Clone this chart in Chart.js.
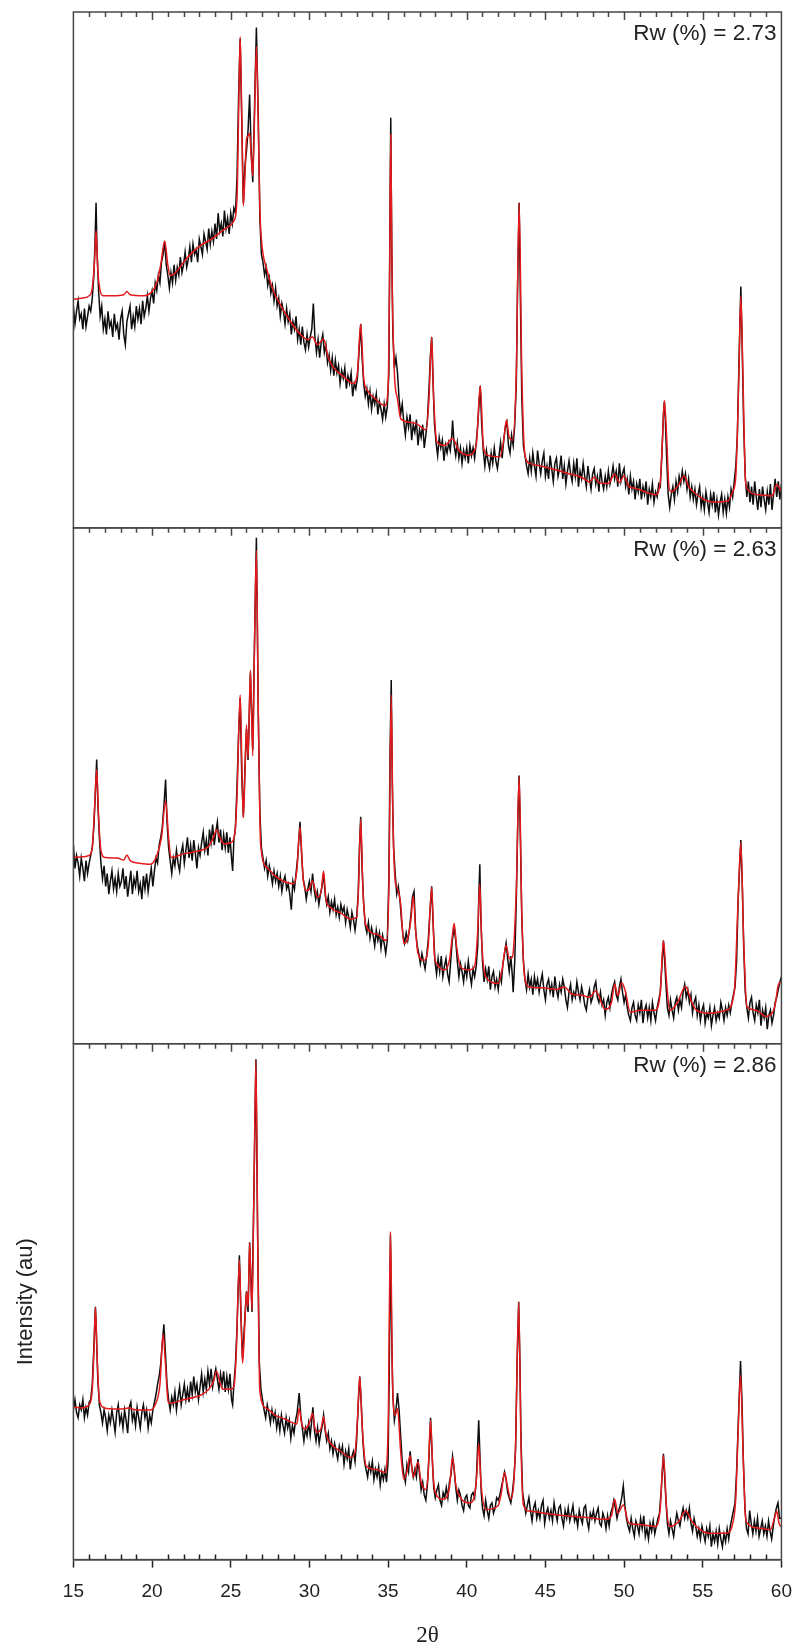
<!DOCTYPE html>
<html>
<head>
<meta charset="utf-8">
<title>XRD Rietveld fits</title>
<script src="https://cdn.jsdelivr.net/npm/chart.js@4.4.0/dist/chart.umd.min.js"></script>
<style>
  html, body { margin: 0; padding: 0; background: #fff; }
  canvas { display: block; }
</style>
</head>
<body>
<canvas id="xrdChart" width="805" height="1649"></canvas>
<script>
// x tick labels (2theta) and one Rw label per panel, top to bottom
const xTickValues = [15, 20, 25, 30, 35, 40, 45, 50, 55, 60];
const rwLabels = ['Rw (%) = 2.73', 'Rw (%) = 2.63', 'Rw (%) = 2.86'];

// Panel 1 (top): observed (black) and calculated (red), intensity in 0-100 of the panel
const obs1 = [[15,43],[15.1,39.5],[15.2,42],[15.3,44],[15.4,40.5],[15.5,41.5],[15.6,38.5],[15.7,42.5],[15.8,39],[15.9,41],[16,43],[16.1,42],[16.2,44.5],[16.3,49],[16.37,55],[16.44,63],[16.5,54],[16.6,46],[16.7,41],[16.8,43],[16.9,38.5],[17,40.5],[17.1,37.5],[17.2,42],[17.3,39],[17.4,40],[17.5,37],[17.6,41.5],[17.7,38.5],[17.8,39.5],[17.9,36.5],[18,40.5],[18.1,42],[18.2,37.5],[18.3,35.5],[18.4,40],[18.5,41.5],[18.6,43],[18.7,38.5],[18.8,41],[18.9,39],[19,43],[19.1,40.5],[19.2,42.5],[19.3,39.5],[19.4,44],[19.5,41],[19.6,42.5],[19.7,45],[19.8,42],[19.9,44.5],[20,46],[20.1,43.5],[20.2,47.5],[20.3,46],[20.4,49],[20.5,47.5],[20.6,51.5],[20.7,53],[20.8,55.5],[20.9,51],[21,49],[21.1,46.5],[21.2,49.5],[21.3,47.5],[21.4,51],[21.5,48],[21.6,50.5],[21.7,49],[21.8,52.5],[21.9,49.5],[22,51],[22.1,53.5],[22.2,50.5],[22.3,52],[22.4,54.5],[22.5,51.5],[22.6,55],[22.7,53],[22.8,54],[22.9,51.5],[23,56],[23.1,54.5],[23.2,53],[23.3,57],[23.4,55.5],[23.5,54],[23.6,58],[23.7,55],[23.8,57.5],[23.9,55.5],[24,59],[24.1,56],[24.2,61],[24.3,57.5],[24.4,59],[24.5,56.5],[24.6,61.5],[24.7,58],[24.8,60],[24.9,57],[25,61],[25.1,59],[25.2,62],[25.3,61],[25.4,68],[25.5,84],[25.6,94.8],[25.7,79],[25.8,63],[25.9,70],[26,73],[26.1,77],[26.2,84],[26.3,73],[26.4,67],[26.5,80],[26.63,97],[26.75,80],[26.85,60],[26.95,53],[27.05,51.5],[27.15,49],[27.25,50.5],[27.35,47],[27.45,48.5],[27.55,45.5],[27.65,47],[27.75,44],[27.85,46.5],[27.95,43],[28.05,44.5],[28.15,41],[28.25,43.5],[28.35,42],[28.45,39.5],[28.55,42.5],[28.65,40],[28.75,41.5],[28.85,37.5],[28.95,40],[29.05,38.5],[29.15,41],[29.25,36.5],[29.35,38.5],[29.45,35.5],[29.55,39],[29.65,36],[29.75,34.5],[29.85,37.5],[29.95,35],[30.05,37],[30.15,38.5],[30.25,43.5],[30.35,37],[30.45,34],[30.55,36.5],[30.65,33],[30.75,36],[30.85,37.5],[30.95,34],[31.05,35.5],[31.15,32],[31.25,33.5],[31.35,30.5],[31.45,33],[31.55,29.5],[31.65,32.5],[31.75,30],[31.85,31.5],[31.95,28],[32.05,30.5],[32.15,29],[32.25,31],[32.35,27],[32.45,29.5],[32.55,28],[32.65,30],[32.75,25.5],[32.85,28],[32.95,27],[33.05,29],[33.15,34],[33.26,39.5],[33.35,33],[33.45,28],[33.55,25.5],[33.65,27],[33.75,24],[33.85,26.5],[33.95,23],[34.05,25.5],[34.15,24],[34.25,26],[34.35,22],[34.45,24.5],[34.55,23],[34.65,21],[34.75,24],[34.85,21.5],[34.95,23.5],[35.05,30],[35.12,60],[35.17,79.5],[35.23,55],[35.3,38],[35.4,31],[35.5,33],[35.6,30],[35.7,25],[35.8,22],[35.9,24],[36,20.5],[36.1,18],[36.2,21.5],[36.3,19.5],[36.4,22],[36.5,17],[36.6,20],[36.7,18.5],[36.8,21],[36.9,16],[37,19],[37.1,17.5],[37.2,20],[37.3,15.5],[37.4,18],[37.5,21],[37.6,27],[37.7,34],[37.77,37],[37.85,29],[37.95,20],[38.05,16.5],[38.15,14],[38.25,17.5],[38.35,15.5],[38.45,17],[38.55,13],[38.65,16],[38.75,14.5],[38.85,16.5],[38.95,15],[39.05,18],[39.1,20.8],[39.2,16],[39.3,14],[39.4,16.5],[39.5,13.5],[39.6,15.5],[39.7,12.5],[39.8,15],[39.9,13.5],[40,15.5],[40.1,12.5],[40.2,16],[40.3,14],[40.4,15.5],[40.5,13.5],[40.6,16.5],[40.7,20],[40.8,25],[40.86,27.5],[40.95,20],[41.05,15],[41.15,12],[41.25,15],[41.35,13],[41.45,11.5],[41.55,14.5],[41.65,12.5],[41.75,15.5],[41.85,13],[41.95,11.5],[42.05,14],[42.15,16.5],[42.25,13.5],[42.35,17],[42.45,19.5],[42.55,20.5],[42.65,16],[42.75,14.5],[42.85,18],[42.95,16],[43.05,20],[43.15,28],[43.22,45],[43.33,63],[43.42,42],[43.5,25],[43.6,16],[43.7,14],[43.8,12],[43.9,10.5],[44,13.5],[44.1,11],[44.2,14.5],[44.3,12],[44.4,10],[44.5,15],[44.6,12.5],[44.7,10.5],[44.8,13],[44.9,14.5],[45,10],[45.1,12],[45.2,9.5],[45.3,14],[45.4,11.5],[45.5,9],[45.6,12.5],[45.7,13.5],[45.8,10],[45.9,11.5],[46,14],[46.1,9.5],[46.2,12],[46.3,8.5],[46.4,11],[46.5,13],[46.6,10.5],[46.7,9],[46.8,12.5],[46.9,10],[47,13.5],[47.1,8],[47.2,11],[47.3,9.5],[47.4,12.5],[47.5,10],[47.6,8],[47.7,12],[47.8,9.5],[47.9,7.5],[48,10.5],[48.1,11.5],[48.2,8.5],[48.3,10],[48.4,7],[48.5,11.5],[48.6,9],[48.7,7.5],[48.8,10],[48.9,8],[49,11],[49.1,8.5],[49.2,10],[49.3,12],[49.4,9.5],[49.5,11],[49.6,8],[49.7,12.5],[49.8,9],[49.9,10.5],[50,11.5],[50.1,8],[50.2,9.5],[50.3,6.5],[50.4,10],[50.5,7.5],[50.6,9],[50.7,5.5],[50.8,8.5],[50.9,7],[51,9.5],[51.1,5.5],[51.2,8],[51.3,6.5],[51.4,9],[51.5,4.5],[51.6,7.5],[51.7,6],[51.8,8.5],[51.9,5],[52,7],[52.1,6],[52.2,8.5],[52.3,8],[52.4,14],[52.5,22],[52.56,24.5],[52.62,21],[52.7,14],[52.8,6.5],[52.9,4],[53,6.5],[53.1,8],[53.2,5.5],[53.3,9],[53.4,7],[53.5,10],[53.6,8.5],[53.7,11],[53.8,9],[53.9,10.5],[54,7.5],[54.1,9.5],[54.2,6],[54.3,8],[54.4,5.5],[54.5,7.5],[54.6,4.5],[54.7,6.5],[54.8,8],[54.9,4],[55,6],[55.1,3.5],[55.2,7],[55.3,5],[55.4,3],[55.5,6.5],[55.6,4.5],[55.7,7],[55.8,3],[55.9,5.5],[56,2.5],[56.1,5],[56.2,6.5],[56.3,3],[56.4,5.5],[56.5,2.8],[56.6,6],[56.7,4],[56.8,7.5],[56.9,6],[57,9],[57.1,12],[57.2,18],[57.3,32],[57.42,46.8],[57.5,36],[57.6,20],[57.7,10],[57.8,6],[57.9,9],[58,5],[58.1,8],[58.2,4.5],[58.3,9],[58.4,6],[58.5,3.5],[58.6,7.5],[58.7,4],[58.8,8],[58.9,5.5],[59,3.5],[59.1,7],[59.2,4.5],[59.3,8.5],[59.4,3.5],[59.5,6.5],[59.6,9.5],[59.7,6],[59.8,9],[59.9,5.5],[60,8.5]];
const calc1 = [[15,44.3],[15.5,44.5],[16,45],[16.2,46.5],[16.35,52],[16.44,57.6],[16.55,50],[16.7,46],[16.9,45],[17.5,45],[18.2,45.2],[18.4,45.8],[18.6,45.2],[19.5,45],[19.9,45.5],[20.3,47.5],[20.55,51],[20.8,55.6],[21,51],[21.15,48.9],[21.5,49.5],[22,51.5],[22.6,53.5],[23.2,55],[23.8,56],[24.3,57.2],[24.8,58.3],[25.2,59.5],[25.4,64],[25.5,80],[25.6,95.2],[25.7,80],[25.8,62.4],[25.9,68],[26,75.3],[26.1,76],[26.2,76.5],[26.3,72],[26.4,68.2],[26.5,78],[26.63,93.3],[26.75,78],[26.85,62],[26.95,55.9],[27.3,50],[27.7,46],[28.2,43],[28.8,40],[29.4,37.6],[29.9,36.5],[30.2,37],[30.5,35.5],[30.9,36.6],[31.2,33],[31.5,31.2],[32.1,29.5],[32.8,28],[33.05,30],[33.26,39.5],[33.45,29],[33.7,26.6],[34.2,25],[34.8,23.7],[35,27],[35.1,50],[35.17,76.2],[35.25,50],[35.4,30],[35.6,25],[35.8,21.2],[36.3,20.5],[36.9,20],[37.4,19],[37.6,25],[37.77,37],[37.9,25],[38.1,16.7],[38.6,16],[39.1,17.3],[39.5,15],[40.1,14.1],[40.6,16],[40.86,27.6],[41.05,16],[41.3,14.1],[42.1,13.8],[42.35,17],[42.52,20.9],[42.7,17.5],[42.9,17],[43.15,30],[43.33,63],[43.5,30],[43.7,14.1],[44,12.5],[45,11.8],[45.7,11.2],[46.5,10.5],[47.3,9.8],[47.8,8.9],[48.1,9.8],[48.4,8.8],[49,8.6],[49.4,10.4],[49.7,8.8],[50,10.1],[50.3,8],[50.7,7.7],[51.5,6.8],[52,6.4],[52.3,9],[52.45,18],[52.56,24.7],[52.7,18],[52.85,8],[53,7],[53.5,8.5],[53.8,10.1],[54.1,8],[54.4,7],[55.3,5.2],[56,5],[56.6,5.2],[56.9,7],[57.1,10],[57.3,30],[57.42,45],[57.55,30],[57.7,10],[57.8,7.7],[58.6,6.4],[59.4,6.2],[59.7,8.4],[60,7]];

// Panel 2 (middle)
const obs2 = [[15,38.5],[15.1,34],[15.2,36.5],[15.3,35],[15.4,32.5],[15.5,36],[15.6,34],[15.7,31.5],[15.8,35.5],[15.9,33],[16,35],[16.1,36.5],[16.2,38],[16.3,42],[16.4,49],[16.48,55.1],[16.55,47],[16.65,40],[16.75,35],[16.85,32],[16.95,34.5],[17.05,30.5],[17.15,33],[17.25,29],[17.35,31.5],[17.45,33.5],[17.55,30],[17.65,32],[17.75,29.5],[17.85,33],[17.95,30.5],[18.05,31.5],[18.15,34],[18.25,30],[18.35,32.5],[18.45,28.5],[18.55,31],[18.65,33.5],[18.75,29],[18.85,32],[18.95,30.5],[19.05,33.5],[19.15,29.5],[19.25,31],[19.35,28],[19.45,32.5],[19.55,30],[19.65,33],[19.75,29.5],[19.85,32],[19.95,34],[20.05,30.5],[20.15,33.5],[20.25,36],[20.35,35],[20.45,38.5],[20.55,40],[20.65,42],[20.75,46],[20.86,51.2],[20.95,43],[21.05,38],[21.15,35.5],[21.25,33],[21.35,36],[21.45,34.5],[21.55,37.5],[21.65,35],[21.75,33.5],[21.85,37],[21.95,38.5],[22.05,35],[22.15,37.5],[22.25,40],[22.35,36],[22.45,38.5],[22.55,35.5],[22.65,39.5],[22.75,37],[22.85,34],[22.95,38],[23.05,36.5],[23.15,39],[23.25,41],[23.35,37.5],[23.45,39.5],[23.55,36.5],[23.65,41.5],[23.75,39],[23.85,42.5],[23.95,38.5],[24.05,41],[24.15,43],[24.25,39],[24.35,41.5],[24.45,37.5],[24.55,40.5],[24.65,38],[24.75,41],[24.85,37],[24.95,40],[25.05,36],[25.12,33.5],[25.2,39.5],[25.3,42],[25.4,50],[25.5,60],[25.6,67],[25.7,52],[25.8,44],[25.9,53],[26,61],[26.1,55],[26.25,72],[26.4,57],[26.5,76],[26.63,98.1],[26.75,64],[26.85,45],[26.95,38],[27.05,36],[27.15,34],[27.25,35.5],[27.35,32.5],[27.45,34.5],[27.55,33],[27.65,31],[27.75,33.5],[27.85,31.5],[27.95,33],[28.05,30.5],[28.15,32.5],[28.25,29.5],[28.35,31.5],[28.45,32.5],[28.55,30],[28.65,31],[28.75,29],[28.85,26],[28.95,31.5],[29.05,30],[29.15,33],[29.25,36],[29.4,43],[29.5,37],[29.6,32],[29.7,30.5],[29.8,28],[29.9,30],[30,31.5],[30.1,29.5],[30.2,33],[30.3,30],[30.4,28],[30.5,29.5],[30.6,27],[30.7,29],[30.8,30.5],[30.9,33],[31,29],[31.1,27],[31.2,28.5],[31.3,25.5],[31.4,27.5],[31.5,26],[31.6,28],[31.7,25],[31.8,26.5],[31.9,24.5],[32,27],[32.1,25.5],[32.2,26.5],[32.3,23.5],[32.4,26],[32.5,24.5],[32.6,22.5],[32.7,25.5],[32.8,24],[32.9,22],[33,24.5],[33.1,29],[33.18,38],[33.26,44],[33.35,34],[33.45,27],[33.55,23],[33.65,21.5],[33.75,23.5],[33.85,20.5],[33.95,22.5],[34.05,21],[34.15,19],[34.25,22],[34.35,20],[34.45,21.5],[34.55,18.5],[34.65,21],[34.75,19.5],[34.85,17.5],[34.95,20],[35.05,32],[35.12,55],[35.2,70.5],[35.27,50],[35.35,38],[35.45,33],[35.55,29],[35.65,30.5],[35.75,28],[35.85,24],[35.95,21],[36.05,19.5],[36.15,21.5],[36.25,20],[36.35,22],[36.45,25],[36.55,28.5],[36.65,29.5],[36.75,22],[36.85,19],[36.95,17.5],[37.05,15.5],[37.15,17.5],[37.25,16],[37.35,14.5],[37.45,17],[37.55,20],[37.65,25],[37.77,30.5],[37.88,22],[37.98,16],[38.08,13.5],[38.18,16.5],[38.28,14],[38.38,17],[38.48,13],[38.58,15],[38.68,16.5],[38.78,13.5],[38.88,12],[38.98,16],[39.08,20],[39.2,22.5],[39.3,20],[39.4,16],[39.5,13],[39.6,15.5],[39.7,14],[39.8,12],[39.9,15],[40,13],[40.1,16],[40.2,13.5],[40.3,11.5],[40.4,14.5],[40.5,13],[40.6,15],[40.7,19],[40.76,28],[40.83,34.8],[40.9,24],[41,16],[41.1,12],[41.2,14.5],[41.3,12.5],[41.4,15],[41.5,10.5],[41.6,13],[41.7,14],[41.8,11],[41.9,12.5],[42,10.5],[42.1,13.5],[42.2,12],[42.3,15.5],[42.4,17.5],[42.5,19.5],[42.6,16.5],[42.7,14],[42.8,17],[42.9,13],[42.95,10],[43.05,16],[43.15,28],[43.25,44],[43.33,52],[43.42,38],[43.5,24],[43.6,16],[43.7,12.5],[43.8,10.5],[43.9,13.5],[44,11],[44.1,12.5],[44.2,9.5],[44.3,13],[44.4,11],[44.5,12.5],[44.6,10],[44.7,12],[44.8,13.5],[44.9,10.5],[45,8.5],[45.1,11.5],[45.2,12.5],[45.3,10],[45.4,11.5],[45.5,9],[45.6,13],[45.7,10.5],[45.8,9],[45.9,11.5],[46,10],[46.1,12.5],[46.2,11],[46.3,8.5],[46.4,7],[46.5,10],[46.6,11.5],[46.7,8.5],[46.8,10],[46.9,9],[47,12],[47.1,10],[47.2,8.5],[47.3,11],[47.4,9.5],[47.5,7.5],[47.6,6.5],[47.7,9],[47.8,10.5],[47.9,8],[48,9],[48.1,11],[48.2,12],[48.3,9],[48.4,8],[48.5,10],[48.6,7.5],[48.7,8.5],[48.8,5.5],[48.9,8],[49,9],[49.1,7],[49.2,9.5],[49.3,11],[49.4,12],[49.5,9.5],[49.6,8.5],[49.7,11],[49.8,12.5],[49.9,10],[50,8],[50.1,9.5],[50.2,7],[50.3,5.5],[50.4,4.5],[50.5,7],[50.6,8],[50.7,5.5],[50.8,4.5],[50.9,7.5],[51,6],[51.1,8.5],[51.2,4],[51.3,6.5],[51.4,7.5],[51.5,5],[51.6,7],[51.7,4.5],[51.8,8],[51.9,6],[52,4.5],[52.1,7],[52.2,8.5],[52.3,10],[52.4,15],[52.5,20],[52.58,16],[52.65,12],[52.75,7],[52.85,5.5],[52.95,8.5],[53.05,6.5],[53.15,5],[53.25,8],[53.35,9],[53.45,6.5],[53.55,8.5],[53.65,7],[53.75,10],[53.85,11.5],[53.95,9],[54.05,10.5],[54.15,8],[54.25,9.5],[54.35,6],[54.45,8],[54.55,9],[54.65,5.5],[54.75,7.5],[54.85,4.5],[54.95,6.5],[55.05,7.5],[55.15,4],[55.25,6],[55.35,5],[55.45,7],[55.55,3.5],[55.65,5.5],[55.75,7],[55.85,4.5],[55.95,6],[56.05,5],[56.15,8],[56.25,6.5],[56.35,4.5],[56.45,7],[56.55,5.5],[56.65,7.5],[56.75,6],[56.85,8],[56.95,9.5],[57.05,11],[57.15,16],[57.25,28],[57.42,39.5],[57.52,30],[57.6,19],[57.7,10],[57.8,7],[57.9,5],[58,8],[58.1,9],[58.2,6],[58.3,4.5],[58.4,7.5],[58.5,6],[58.6,8.5],[58.7,3.5],[58.8,6.5],[58.9,5],[59,7],[59.1,2.8],[59.2,5.5],[59.3,6.5],[59.4,4],[59.5,5.5],[59.6,8],[59.7,9],[59.8,10.5],[59.9,12],[60,13]];
const calc2 = [[15,36.1],[15.5,36.2],[16,36.5],[16.2,38],[16.35,46],[16.48,53.1],[16.6,44],[16.75,37.5],[17,36.1],[17.8,36],[18.2,35.6],[18.4,36.6],[18.6,35.5],[19.2,35],[19.9,34.8],[20.3,36.5],[20.6,40],[20.86,47],[21.05,40],[21.2,36.1],[22,36.8],[23,37.4],[23.6,38.3],[23.9,40],[24.1,41.5],[24.3,40],[24.6,38.7],[25,39],[25.25,40.5],[25.4,48],[25.6,67.6],[25.7,55],[25.8,43.8],[25.9,52],[26,61.8],[26.1,55.4],[26.25,72.4],[26.4,55.8],[26.5,75],[26.63,95.6],[26.75,65],[26.9,38.7],[27.3,34.2],[27.8,32.6],[28.3,31.6],[29,31],[29.2,33.5],[29.4,42],[29.6,32],[29.8,29.7],[30,30],[30.2,31.6],[30.5,28.4],[30.75,29.5],[30.9,33.5],[31.05,28],[31.3,26.5],[32,25.3],[32.6,24.2],[33,24.5],[33.12,30],[33.26,43.5],[33.4,30],[33.6,22.9],[34.3,21.2],[34.9,20],[35.05,30],[35.2,67.6],[35.3,45],[35.45,31.6],[35.6,30],[35.8,27.1],[36,19.4],[36.25,20.5],[36.45,24],[36.6,28.7],[36.75,22],[36.9,17.5],[37.3,16.2],[37.55,19],[37.77,30.3],[37.95,17],[38.1,15.5],[38.5,14.3],[38.9,16.2],[39.05,20],[39.2,23.3],[39.35,19],[39.6,14.9],[40.1,14.3],[40.5,15],[40.7,22],[40.83,31],[40.95,20],[41.2,13],[42,11.7],[42.25,14.5],[42.5,19.1],[42.7,16.5],[42.9,16.8],[43.15,30],[43.33,51.9],[43.5,25],[43.7,12.4],[44,11],[45,10.8],[45.7,10.5],[46.2,11],[46.7,9.6],[47.3,9.4],[47.8,9],[48.2,10.2],[48.8,6.7],[49.2,8],[49.4,11.6],[49.6,9.3],[49.85,11.8],[50.05,10.5],[50.4,6.1],[51,6.5],[52,6.5],[52.3,10],[52.5,20],[52.7,12],[52.9,6.5],[53.4,8],[53.9,11.1],[54.3,8],[54.6,6.5],[55.4,5.9],[56.5,6.5],[57,10],[57.25,28],[57.42,39],[57.6,20],[57.8,7.2],[58.4,6.5],[59,5.3],[59.4,5.9],[59.6,7.5],[59.8,11.4],[60,12]];

// Panel 3 (bottom)
const obs3 = [[15,29],[15.1,31],[15.2,28.5],[15.3,27.5],[15.4,30],[15.5,29],[15.6,31],[15.7,27.5],[15.8,29.5],[15.9,28],[16,30.5],[16.1,31],[16.2,34],[16.3,41],[16.4,49],[16.48,42],[16.55,35],[16.65,30],[16.75,28.5],[16.85,26.5],[16.95,29],[17.05,27.5],[17.15,25],[17.25,28],[17.35,26.5],[17.45,29],[17.55,27],[17.65,24.7],[17.75,28.5],[17.85,30],[17.95,26.5],[18.05,28],[18.15,25.5],[18.25,29],[18.35,27],[18.45,24.5],[18.55,29.5],[18.65,30.5],[18.75,27],[18.85,28.5],[18.95,26],[19.05,29.5],[19.15,27.5],[19.25,25.5],[19.35,28.5],[19.45,30],[19.55,27.5],[19.65,29],[19.75,25.5],[19.85,28],[19.95,26.5],[20.05,29],[20.15,30.5],[20.25,32],[20.35,34],[20.45,35.5],[20.55,38],[20.65,42],[20.75,45.6],[20.85,40],[20.95,34],[21.05,31],[21.15,29],[21.25,31.5],[21.35,30],[21.45,32.5],[21.55,29],[21.65,31.5],[21.75,33.5],[21.85,30],[21.95,32],[22.05,34],[22.15,31],[22.25,33],[22.35,30.5],[22.45,34.5],[22.55,32],[22.65,35.5],[22.75,32.5],[22.85,34],[22.95,31],[23.05,33.5],[23.15,36],[23.25,32.5],[23.35,35],[23.45,33],[23.55,36.5],[23.65,34],[23.75,37],[23.85,33.5],[23.95,35.5],[24.05,37],[24.15,35],[24.25,33],[24.35,36],[24.45,34],[24.55,36.5],[24.65,32.5],[24.75,35.5],[24.85,33],[24.95,36],[25.05,31],[25.12,30],[25.2,34],[25.3,38],[25.4,45],[25.48,53],[25.55,59],[25.65,47],[25.75,39],[25.9,47],[26,52],[26.1,48],[26.2,61.5],[26.35,48],[26.47,71],[26.6,97],[26.72,60],[26.82,38],[26.92,33],[27.02,31],[27.12,29],[27.22,27.5],[27.32,30],[27.42,28.5],[27.52,26.5],[27.62,29],[27.72,27],[27.82,28.5],[27.92,25.5],[28.02,27.5],[28.12,25],[28.22,28],[28.32,26],[28.42,24.5],[28.52,27.5],[28.62,25.5],[28.72,27],[28.82,23.5],[28.92,26],[29.02,24.5],[29.12,27],[29.22,28.5],[29.35,32.3],[29.45,28],[29.55,25.5],[29.65,23],[29.75,25.5],[29.85,24],[29.95,26.5],[30.05,24],[30.15,27],[30.22,29.5],[30.32,25],[30.42,23],[30.52,25.5],[30.62,22.5],[30.72,24.5],[30.82,26],[30.9,28],[31,25],[31.1,23],[31.2,24.5],[31.3,21.5],[31.4,23],[31.5,20.5],[31.6,22.5],[31.7,21],[31.8,19.5],[31.9,22],[32,20.5],[32.1,22],[32.2,18.5],[32.3,21],[32.4,19.5],[32.5,21.5],[32.6,17.5],[32.7,20],[32.8,21],[32.9,19],[33,23],[33.1,30],[33.2,35.5],[33.3,30],[33.4,23],[33.5,19],[33.6,17.5],[33.7,16],[33.8,18.5],[33.9,17],[34,19],[34.1,15.5],[34.2,17.5],[34.3,16],[34.4,18],[34.5,14.5],[34.6,17],[34.7,15.5],[34.8,17.5],[34.9,15],[35,19],[35.07,35],[35.15,63],[35.22,45],[35.3,32],[35.4,27],[35.5,29],[35.6,32.3],[35.7,29],[35.8,24],[35.9,19],[36,16.5],[36.1,15],[36.2,18.5],[36.3,17],[36.4,21],[36.5,18],[36.6,16],[36.7,17.5],[36.8,16],[36.9,19.5],[37,16.5],[37.1,13.5],[37.2,15],[37.3,12.5],[37.4,11.5],[37.5,14.5],[37.6,20],[37.7,27.5],[37.8,20],[37.9,14],[38,12],[38.1,13.5],[38.2,14.5],[38.3,11.5],[38.4,10.5],[38.5,13],[38.6,12],[38.7,14],[38.8,12],[38.9,15],[39,16.5],[39.1,20],[39.2,17.5],[39.3,14],[39.4,11.5],[39.5,13.5],[39.6,12.5],[39.7,10.5],[39.8,9.5],[39.9,12],[40,12.5],[40.1,10.5],[40.2,10],[40.3,12.5],[40.4,13],[40.5,12],[40.6,15],[40.68,21],[40.76,27],[40.84,20],[40.92,13],[41,10],[41.1,8.5],[41.2,11.5],[41.3,9.5],[41.4,8],[41.5,10.5],[41.6,11],[41.7,9],[41.8,10],[41.9,12],[42,11.5],[42.1,12.5],[42.2,14],[42.3,15.5],[42.4,17],[42.5,15.5],[42.6,13],[42.7,12],[42.8,11],[42.9,13],[43,16],[43.1,21],[43.2,38],[43.3,50],[43.38,38],[43.45,23],[43.55,13],[43.65,11],[43.75,9],[43.85,10.5],[43.95,12],[44.05,9.5],[44.15,7.5],[44.25,10],[44.35,11],[44.45,8],[44.55,9.5],[44.65,8],[44.75,10.5],[44.85,11.5],[44.95,7],[45.05,9],[45.15,10],[45.25,8],[45.35,9.5],[45.45,7.5],[45.55,11],[45.65,9],[45.75,7.5],[45.85,10],[45.95,10.5],[46.05,8],[46.15,6.5],[46.25,9.5],[46.35,8],[46.45,10],[46.55,7.5],[46.65,9],[46.75,10.5],[46.85,7.5],[46.95,8.5],[47.05,6.5],[47.15,9.5],[47.25,8],[47.35,7],[47.45,10],[47.55,10.5],[47.65,7.5],[47.75,6],[47.85,9],[47.95,8],[48.05,9.5],[48.15,7.5],[48.25,9],[48.35,10],[48.45,7],[48.55,6.5],[48.65,9],[48.75,8],[48.85,6],[48.95,8.5],[49.05,6.5],[49.15,9],[49.25,10],[49.35,11.5],[49.45,10],[49.55,8],[49.65,9.5],[49.75,10.5],[49.85,12],[49.95,14.3],[50.05,10.5],[50.15,8],[50.25,6.5],[50.35,5.5],[50.45,8],[50.55,6],[50.65,4.5],[50.75,7.5],[50.85,6.5],[50.95,5],[51.05,8],[51.15,6],[51.25,8.5],[51.35,4.5],[51.45,6],[51.55,4],[51.65,7],[51.75,5.5],[51.85,7.5],[51.95,5],[52.05,6.5],[52.15,8],[52.25,9],[52.35,13],[52.45,18],[52.5,20.5],[52.58,16],[52.65,12],[52.75,7],[52.85,5],[52.95,7.5],[53.05,6],[53.15,4.5],[53.25,7],[53.35,9],[53.45,7.5],[53.55,6.5],[53.65,8.5],[53.75,10],[53.85,8],[53.95,9.5],[54.05,8],[54.15,10],[54.25,7],[54.35,5.5],[54.45,8],[54.55,6.5],[54.65,4.5],[54.75,6],[54.85,4],[54.95,6.5],[55.05,5],[55.15,3.5],[55.25,6],[55.35,4.5],[55.45,6.5],[55.55,2.5],[55.65,5],[55.75,3.5],[55.85,5.5],[55.95,3],[56.05,6],[56.15,4],[56.25,2.5],[56.35,5],[56.45,3.5],[56.55,6],[56.65,4],[56.75,6.5],[56.85,8],[56.95,9.5],[57.05,11],[57.15,17],[57.25,26],[57.4,38.5],[57.5,30],[57.58,19],[57.68,10],[57.78,6],[57.88,5],[57.98,9.5],[58.08,7],[58.18,5],[58.28,7.5],[58.38,5.5],[58.48,8],[58.58,4.5],[58.68,6],[58.78,7.5],[58.88,5],[58.98,6.5],[59.08,4.5],[59.18,7.5],[59.28,5.5],[59.38,4],[59.48,6.5],[59.58,8.5],[59.68,10],[59.78,11],[59.88,8],[60,8]];
const calc3 = [[15,29.6],[15.5,29.4],[16,30],[16.2,33],[16.3,40],[16.4,48.9],[16.5,40],[16.65,31],[16.9,29.5],[17.1,29.3],[18,29.2],[18.5,29.4],[19,29],[19.9,29],[20.2,30],[20.5,34],[20.7,43.7],[20.85,38],[21,31],[21.1,30.3],[22,31],[23.1,31.9],[23.6,33],[23.9,34.5],[24.1,36.5],[24.3,34.5],[24.5,33],[25,33],[25.2,33.5],[25.35,40],[25.55,58.1],[25.65,48],[25.75,38.1],[25.9,46],[26,51.9],[26.1,49],[26.2,61.4],[26.35,48.3],[26.47,70],[26.6,96.7],[26.72,60],[26.85,32.6],[27.3,29.3],[27.8,28],[28.4,27.3],[29.2,26.3],[29.35,29.3],[29.5,26.5],[29.7,25.3],[30,26.5],[30.2,28.3],[30.35,25.5],[30.5,24.7],[30.75,25.5],[30.9,27.7],[31.05,24.5],[31.3,22.7],[32,21],[32.6,19.8],[32.9,20.8],[33.05,27],[33.2,35.5],[33.35,26],[33.6,18.2],[34.2,17.5],[34.8,16.9],[35,25],[35.15,63.6],[35.28,35],[35.45,28],[35.6,29.3],[35.8,21],[36,15.6],[36.2,17],[36.4,20.2],[36.6,16],[36.9,18.9],[37.1,15],[37.4,13.6],[37.55,17],[37.7,27],[37.85,17],[38,13],[38.5,11.7],[38.9,14],[39.1,19.8],[39.3,14.5],[39.5,12.5],[40.2,11],[40.5,12.5],[40.65,17],[40.76,22.4],[40.9,15],[41.2,9.7],[42,10.5],[42.2,13],[42.4,16.9],[42.6,14],[42.8,11.7],[43.1,22],[43.3,49.9],[43.45,22],[43.6,10.6],[44,9.4],[45.7,8.7],[47.8,8.1],[48.8,7.8],[49.2,8.5],[49.4,11.7],[49.6,9],[49.95,10.6],[50.3,7.1],[51,6.8],[52,6.4],[52.3,10],[52.5,20.2],[52.7,10],[52.9,6.4],[53.5,7.5],[53.9,9.4],[54.3,7.5],[54.6,6.4],[55.4,5.1],[56.5,5.1],[56.9,7],[57.1,12],[57.25,25],[57.4,35.8],[57.55,22],[57.7,9],[57.8,7.2],[58.6,6.1],[59.3,5.8],[59.55,8],[59.7,9.4],[59.85,7],[60,6.4]];

const panelIds = ['y1', 'y2', 'y3'];
const obsColor = '#0d0d0d';
const calcColor = '#e41a1c';
const frameColor = '#474747';
const textColor = '#222222';

function obsSet(data, axis) {
    return { data: data, yAxisID: axis, borderColor: obsColor, borderWidth: 1.5,
             pointRadius: 0, tension: 0, order: 1 };
}
function calcSet(data, axis) {
    return { data: data, yAxisID: axis, borderColor: calcColor, borderWidth: 1.5,
             pointRadius: 0, cubicInterpolationMode: 'monotone', order: 0 };
}

function panelScale(withTitle) {
    return {
        type: 'linear', position: 'left', stack: 'xrd', stackWeight: 1,
        min: 0, max: 100,
        ticks: { display: false },
        grid: { display: false, drawTicks: false },
        border: { display: false },
        title: {
            display: withTitle, text: 'Intensity (au)', color: textColor,
            font: { family: 'Liberation Sans', size: 22 },
            padding: { top: 0, bottom: 34 }
        }
    };
}

// frame, inward ticks and Rw text for each panel
const framePlugin = {
    id: 'xrdFrame',
    afterDatasetsDraw(chart) {
        const { ctx, chartArea, scales } = chart;
        const x = scales.x;
        ctx.save();
        ctx.strokeStyle = frameColor;
        ctx.lineWidth = 1.5;
        panelIds.forEach((id, i) => {
            const s = scales[id];
            ctx.strokeRect(chartArea.left, s.top, chartArea.right - chartArea.left, s.bottom - s.top);
            ctx.beginPath();
            for (let v = 16; v < 60; v++) {
                const px = Math.round(x.getPixelForValue(v)) + 0.5;
                const len = v % 5 === 0 ? 8 : 5;
                ctx.moveTo(px, s.top);
                ctx.lineTo(px, s.top + len);
            }
            ctx.stroke();
            ctx.fillStyle = textColor;
            ctx.font = '22.5px "Liberation Sans"';
            ctx.textAlign = 'right';
            ctx.textBaseline = 'alphabetic';
            ctx.fillText(rwLabels[i], chartArea.right - 5, s.top + 28);
        });
        // minor ticks on the bottom axis point inward
        const bottom = scales.y3.bottom;
        ctx.strokeStyle = '#222';
        ctx.beginPath();
        for (let v = 16; v < 60; v++) {
            if (v % 5 === 0) continue;
            const px = Math.round(x.getPixelForValue(v)) + 0.5;
            ctx.moveTo(px, bottom);
            ctx.lineTo(px, bottom - 5);
        }
        ctx.stroke();
        ctx.restore();
    }
};

new Chart(document.getElementById('xrdChart'), {
    type: 'line',
    data: {
        datasets: [
            calcSet(calc1, 'y1'), obsSet(obs1, 'y1'),
            calcSet(calc2, 'y2'), obsSet(obs2, 'y2'),
            calcSet(calc3, 'y3'), obsSet(obs3, 'y3')
        ]
    },
    options: {
        responsive: false,
        animation: false,
        devicePixelRatio: 1,
        events: [],
        layout: { padding: { left: 13, right: 14, top: 12, bottom: 0 } },
        plugins: { legend: { display: false }, tooltip: { enabled: false } },
        scales: {
            x: {
                type: 'linear', position: 'bottom', min: 15, max: 60,
                afterBuildTicks: axis => { axis.ticks = xTickValues.map(v => ({ value: v })); },
                ticks: {
                    color: textColor, padding: 13, maxRotation: 0, autoSkip: false,
                    font: { family: 'Liberation Sans', size: 19 }
                },
                grid: {
                    display: true, drawOnChartArea: false, drawTicks: true,
                    tickLength: 8, tickWidth: 1.5, tickColor: '#222'
                },
                border: { display: true, color: '#222', width: 1.5 },
                title: {
                    display: true, text: '2θ', color: textColor,
                    font: { family: 'Liberation Serif', size: 23 },
                    padding: { top: 6, bottom: -1 }
                }
            },
            // stacked bottom to top: the last defined sits on top
            y3: panelScale(true),
            y2: panelScale(false),
            y1: panelScale(false)
        }
    },
    plugins: [framePlugin]
});
</script>
</body>
</html>
